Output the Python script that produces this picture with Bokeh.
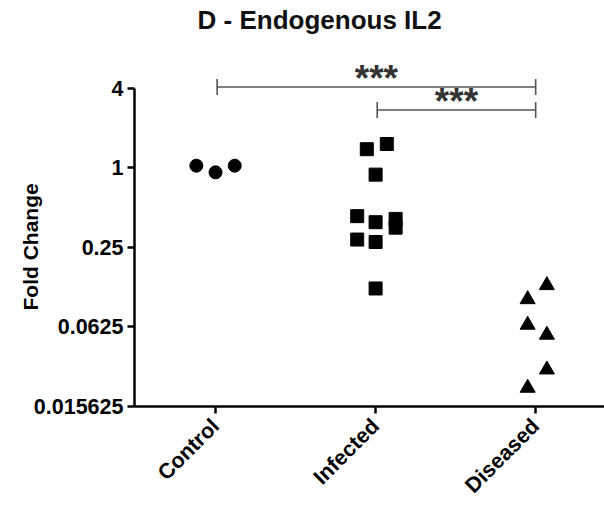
import math
from bokeh.plotting import figure
from bokeh.models import FixedTicker, Range1d, Title
from bokeh.core.properties import value
from bokeh.embed import file_html
from bokeh.resources import INLINE

# ---- data ----
categories = ["Control", "Infected", "Diseased"]
cat_pos = [1, 2, 3]

control_vals = [1.035, 0.922, 1.035]
control_jitter = [-0.12, 0.0, 0.12]

infected_vals = [1.38, 1.51, 0.886, 0.430, 0.387, 0.410, 0.352, 0.286, 0.274, 0.122]
infected_jitter = [-0.055, 0.07, 0.0, -0.115, 0.0, 0.125, 0.125, -0.115, 0.0, 0.0]

diseased_vals = [0.129, 0.101, 0.0647, 0.0544, 0.0297, 0.0216]
diseased_jitter = [0.07, -0.05, -0.05, 0.07, 0.07, -0.05]

y_ticks = [0.015625, 0.0625, 0.25, 1, 4]
y_tick_labels = ["0.015625", "0.0625", "0.25", "1", "4"]

# significance comparisons: (from group, to group, bar height, label)
sig_from = ["Control", "Infected"]
sig_to = ["Diseased", "Diseased"]
sig_height = [4.07, 2.73]
sig_label = ["***", "***"]

title_text = "D - Endogenous IL2"

FONT = "Liberation Sans"
PX_PER_DOUBLING = 40.0           # vertical scale of the log axis in pixels

# frame spans from the very top of the canvas down to the x axis;
# the y axis line itself is bounded to the tick range
y_end = y_ticks[-1] * 2 ** (88 / PX_PER_DOUBLING)
p = figure(width=604, height=509, output_backend="svg", toolbar_location=None,
           title=None, y_axis_type="log",
           x_range=Range1d(0.49375, 3.43), y_range=Range1d(y_ticks[0], y_end),
           min_border_left=134, min_border_right=0, min_border_top=0,
           min_border_bottom=102)
p.outline_line_color = None
p.grid.visible = False

pos = dict(zip(categories, cat_pos))

# chart title (drawn inside the top band of the frame)
p.text(x=[0.8876], y=[y_ticks[-1] * 2 ** (68 / PX_PER_DOUBLING)], text=[title_text],
       text_font=value(FONT), text_font_size="26px", text_font_style="bold",
       text_color="#111111", text_align="left", text_baseline="alphabetic")

# points
p.scatter([pos["Control"] + j for j in control_jitter], control_vals,
          marker="circle", size=13, color="black")
p.scatter([pos["Infected"] + j for j in infected_jitter], infected_vals,
          marker="square", size=13, color="black")
p.scatter([pos["Diseased"] + j for j in diseased_jitter], diseased_vals,
          marker="triangle", size=15, color="black")

# significance bars
x0 = [pos[a] + 0.01 for a in sig_from]
x1 = [pos[b] for b in sig_to]
cap = 2 ** (8 / PX_PER_DOUBLING)
bar_col = "#555555"
p.segment(x0=x0, y0=sig_height, x1=x1, y1=sig_height, line_color=bar_col, line_width=1.6)
p.segment(x0=x0, y0=[h / cap for h in sig_height], x1=x0, y1=[h * cap for h in sig_height],
          line_color=bar_col, line_width=1.6)
p.segment(x0=x1, y0=[h / cap for h in sig_height], x1=x1, y1=[h * cap for h in sig_height],
          line_color=bar_col, line_width=1.6)
mid = [(a + b) / 2 for a, b in zip(x0, x1)]
p.text(x=mid, y=sig_height, text=sig_label, text_font=value(FONT), text_font_size="37px",
       text_font_style="bold", text_align="center", text_baseline="alphabetic",
       y_offset=-9, text_color="#333333")

# axes
for ax in (p.xaxis[0], p.yaxis[0]):
    ax.axis_line_width = 2.5
    ax.major_tick_line_width = 2.5
    ax.major_tick_out = 7
    ax.major_tick_in = 0
    ax.minor_tick_line_color = None
    ax.major_label_text_font = FONT
    ax.major_label_text_font_style = "bold"
    ax.major_label_text_font_size = "21.5px"
    ax.major_label_text_color = "black"
    ax.axis_line_color = "black"
    ax.major_tick_line_color = "black"

p.yaxis.ticker = FixedTicker(ticks=y_ticks)
p.yaxis.major_label_overrides = {t: l for t, l in zip(y_ticks, y_tick_labels)}
p.yaxis.bounds = (y_ticks[0], y_ticks[-1])
p.yaxis.major_label_standoff = 4

# y-axis title as a side title so it can be centred on the drawn axis
p.add_layout(Title(text="Fold Change", text_font=FONT, text_font_size="21px",
                   text_font_style="bold", text_color="black",
                   align="left", offset=96, standoff=-23), "left")

p.xaxis.ticker = FixedTicker(ticks=cat_pos)
p.xaxis.major_label_overrides = {c: n for c, n in zip(cat_pos, categories)}
p.xaxis.major_label_orientation = math.pi / 4
p.xaxis.major_label_standoff = 9

open("out.html", "w").write(file_html(p, INLINE))
